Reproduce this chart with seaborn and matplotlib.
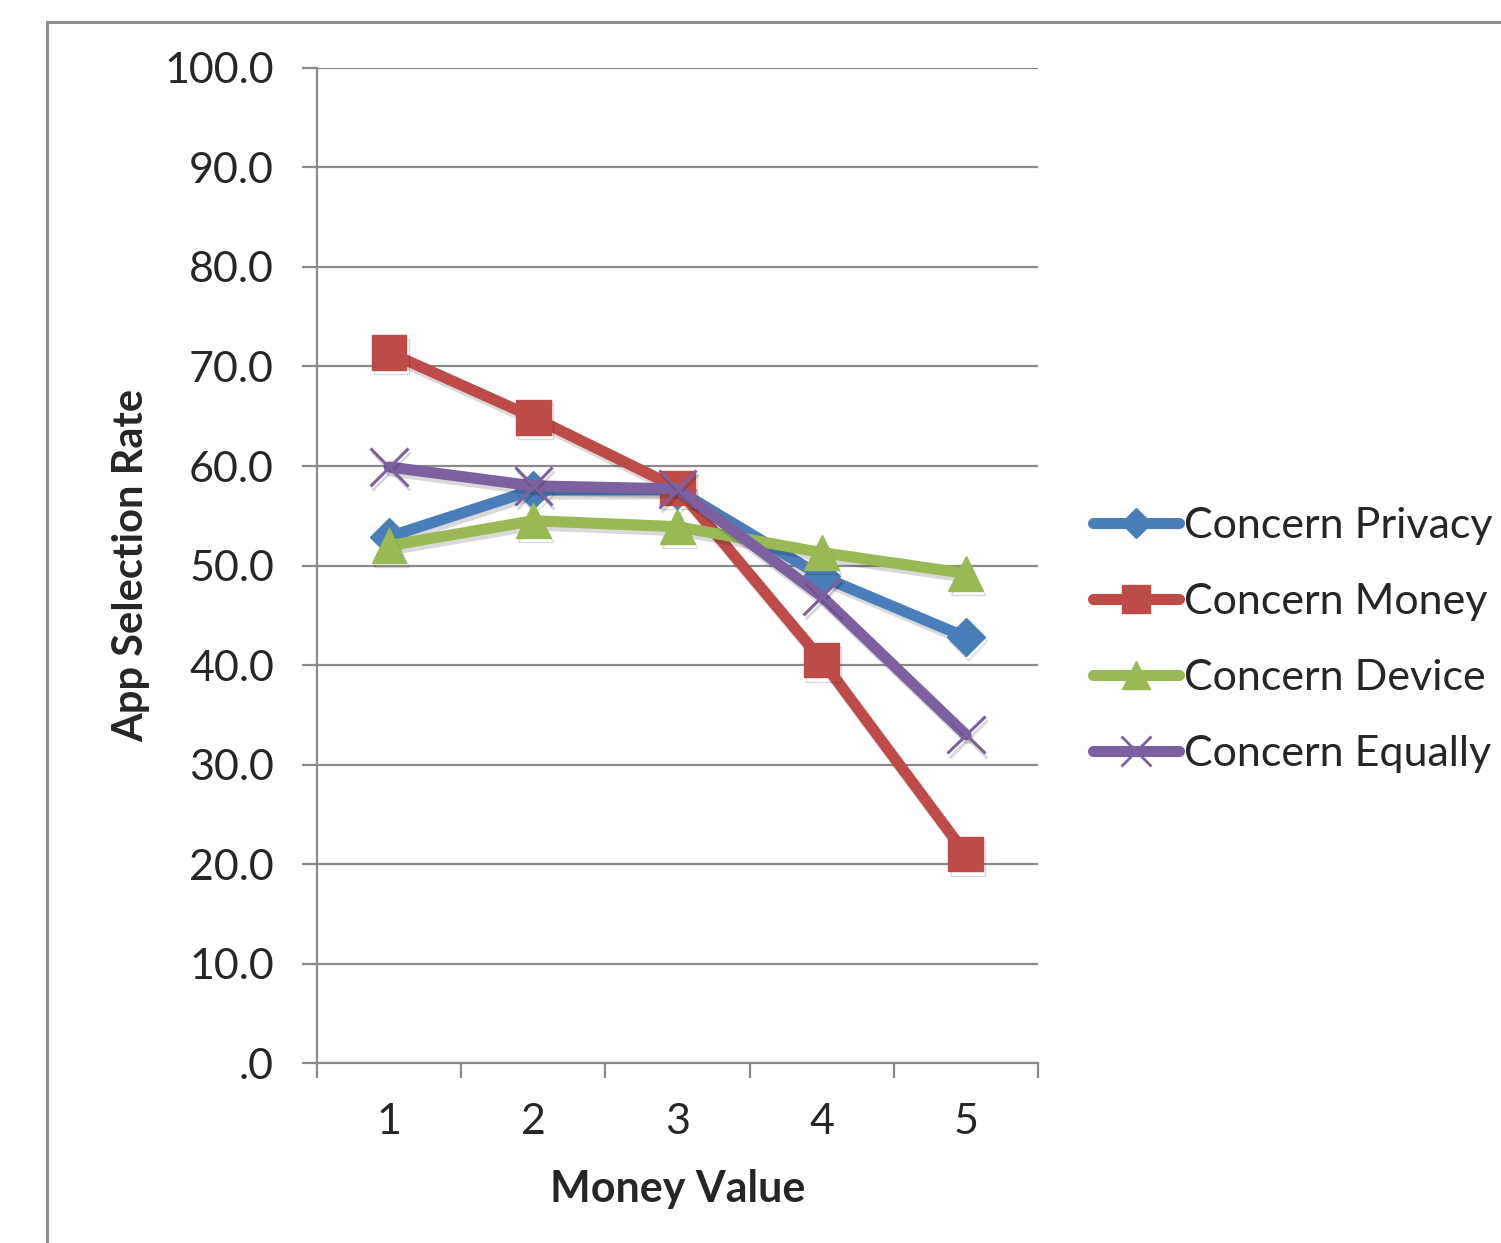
import matplotlib
matplotlib.use("Agg")
import matplotlib.pyplot as plt
import matplotlib.patheffects as pe
from matplotlib.lines import Line2D
from matplotlib.patches import Rectangle
import seaborn as sns
import pandas as pd

money_values = [1, 2, 3, 4, 5]
concern_privacy = [52.9, 57.6, 57.6, 48.9, 42.8]
concern_money = [71.4, 64.9, 57.8, 40.5, 21.0]
concern_device = [52.0, 54.5, 53.9, 51.3, 49.2]
concern_equally = [59.9, 58.0, 57.7, 46.9, 33.0]

series_names = ["Concern Privacy", "Concern Money", "Concern Device", "Concern Equally"]
y_ticks = [0, 10, 20, 30, 40, 50, 60, 70, 80, 90, 100]
y_tick_labels = [".0", "10.0", "20.0", "30.0", "40.0", "50.0", "60.0", "70.0", "80.0", "90.0", "100.0"]

colors = ["#4A7EBB", "#BE4B48", "#98B954", "#7D60A0"]
markers = ["D", "s", "^", "x"]
marker_sizes = [19, 25, 25, 27]

sns.set_style("white")
plt.rcParams["font.family"] = ["Lato", "DejaVu Sans"]

fig = plt.figure(figsize=(15.01, 12.43), dpi=100)
ax = fig.add_axes([0.2112, 0.1448, 0.4803, 0.8005])

# outer chart-area border
fig.add_artist(Rectangle((47 / 1501, -0.05), 1.2, 1 - 22 / 1243 + 0.05,
                         transform=fig.transFigure, fill=False,
                         edgecolor="#8c8c8c", linewidth=2.2, zorder=0))

values = [concern_privacy, concern_money, concern_device, concern_equally]
for name, vals, c, m, ms in zip(series_names, values, colors, markers, marker_sizes):
    df = pd.DataFrame({"Money Value": money_values, "Rate": vals})
    kw = dict(marker=m, markersize=ms, color=c, linewidth=8,
              markeredgecolor=c, solid_joinstyle="round", solid_capstyle="round")
    kw["markeredgewidth"] = 2.2 if m == "x" else 1
    sns.lineplot(data=df, x="Money Value", y="Rate", ax=ax, **kw)
    ax.lines[-1].set_path_effects([pe.SimpleLineShadow(offset=(1.5, -3), alpha=0.15), pe.Normal()])

ax.set_xlim(0.5, 5.5)
ax.set_ylim(0, 100)
ax.set_yticks(y_ticks)
ax.set_yticklabels(y_tick_labels)
ax.set_xticks([0.5, 1.5, 2.5, 3.5, 4.5, 5.5])
ax.set_xticklabels([])
ax.set_xticks(money_values, minor=True)
ax.set_xticklabels([str(v) for v in money_values], minor=True)

ax.grid(axis="y", color="#8a8a8a", linewidth=1.6)
ax.set_axisbelow(True)
for s in ["top", "right"]:
    ax.spines[s].set_visible(False)
for s in ["left", "bottom"]:
    ax.spines[s].set_color("#8a8a8a")
    ax.spines[s].set_linewidth(1.6)

ax.tick_params(axis="y", which="major", direction="out", length=11, width=1.6,
               color="#8a8a8a", labelsize=31, pad=20, left=True)
ax.tick_params(axis="x", which="major", direction="out", length=11, width=1.6,
               color="#8a8a8a", bottom=True)
ax.tick_params(axis="x", which="minor", length=0, labelsize=31, pad=29)

ax.set_xlabel("Money Value", fontsize=31, fontweight="bold", labelpad=20)
ax.set_ylabel("App Selection Rate", fontsize=30, fontweight="bold", labelpad=10)

handles = [Line2D([0], [0], color=c, linewidth=8, marker=m,
                  markersize=ms * 0.8, markeredgecolor=c,
                  markeredgewidth=(2.0 if m == "x" else 1), solid_capstyle="round")
           for c, m, ms in zip(colors, markers, marker_sizes)]
fig.legend(handles, series_names, loc="center left",
           bbox_to_anchor=(1093 / 1501, 1 - 640 / 1243), frameon=False,
           fontsize=31, handlelength=2.0, handletextpad=0.12, labelspacing=0.88,
           borderaxespad=0, borderpad=0)

fig.savefig("out.png", dpi=100)
